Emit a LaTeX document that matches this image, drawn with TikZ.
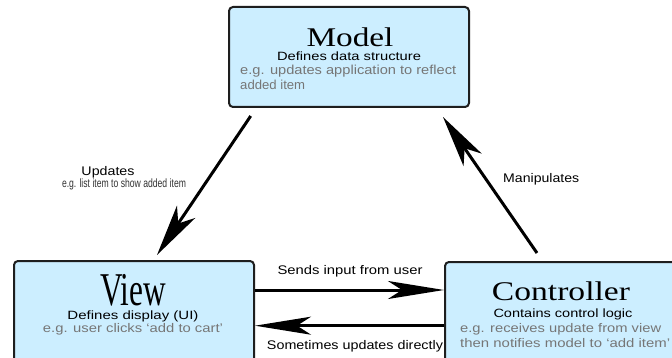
\documentclass[tikz,border=0pt]{standalone}
\usepackage{fontspec}
\setmainfont{Liberation Serif}
\newfontfamily\sansf{Liberation Sans}
\usepackage{graphicx}
\usetikzlibrary{arrows.meta}
\definecolor{boxfill}{HTML}{CCEEFF}
\definecolor{boxline}{HTML}{1E1E1E}
\definecolor{greytxt}{HTML}{767676}
\newcommand{\fw}[2]{\resizebox{#1}{\height}{#2}}
\begin{document}
\begin{tikzpicture}[x=1pt,y=-1pt,
  box/.style={draw=boxline,line width=2pt,fill=boxfill,rounded corners=4pt,inner sep=0pt},
  ttl/.style={inner sep=0pt,anchor=base,font=\fontsize{27}{27}\selectfont},
  blk/.style={inner sep=0pt,anchor=base,font=\sansf\fontsize{12}{12}\selectfont},
  gry/.style={inner sep=0pt,anchor=base west,text=greytxt,font=\sansf\fontsize{12.5}{12.5}\selectfont},
  lbl/.style={inner sep=0pt,anchor=base,font=\sansf\fontsize{12.5}{12.5}\selectfont},
  arr/.style={line width=3pt,-{Stealth[length=52pt,width=22pt,inset=14pt]}},
  harr/.style={line width=3pt,-{Stealth[length=56pt,width=18pt,inset=14pt]}}]
\useasboundingbox (0,0) rectangle (672,358);
\clip (0,0) rectangle (672,358);
\fill[white] (0,0) rectangle (672,358);
% boxes
\node[box,minimum width=240pt,minimum height=100pt] (model) at (349,57) {};
\node[box,minimum width=240pt,minimum height=119pt] (view) at (134,320.5) {};
\node[box,minimum width=255pt,minimum height=118pt] (ctrl) at (572.5,321) {};
% model texts
\node[ttl] (mt) at (350,46.7) {\fw{87pt}{Model}};
\node[blk] (m1) at (349,60.7) {\fw{144pt}{Defines data structure}};
\node[gry,font=\sansf\fontsize{13}{13}\selectfont] (m2) at (240,75) {\fw{216pt}{e.g. updates application to reflect}};
\node[gry,font=\sansf\fontsize{13}{13}\selectfont] (m3) at (240,89.5) {\fw{65pt}{added item}};
% view texts
\node[ttl,font=\fontsize{47}{47}\selectfont] (vt) at (133,305.5) {\fw{66pt}{View}};
\node[blk] (v1) at (133,319) {\fw{131pt}{Defines display (UI)}};
\node[gry,anchor=base] (v2) at (133,332.7) {\fw{180pt}{e.g. user clicks ‘add to cart’}};
% controller texts
\node[ttl] (ct) at (561,300) {\fw{138pt}{Controller}};
\node[blk] (c1) at (563,317.7) {\fw{139pt}{Contains control logic}};
\node[gry] (c2) at (460,332.7) {\fw{201pt}{e.g. receives update from view}};
\node[gry] (c3) at (460,347.3) {\fw{210pt}{then notifies model to ‘add item’}};
% arrows
\coordinate (ua) at (250.7,116);
\coordinate (ub) at (157,255);
\coordinate (ma) at (537,253);
\coordinate (mb) at (443,117);
\coordinate (sy) at (0,290);
\coordinate (ry) at (0,325.7);
\draw[arr] (ua) -- (ub);
\draw[arr] (ma) -- (mb);
\draw[harr] (view.east |- sy) -- (ctrl.west |- sy);
\draw[harr] (ctrl.west |- ry) -- (view.east |- ry);
% labels
\node[lbl] (l1) at (108,176) {\fw{53pt}{Updates}};
\node[lbl,text=black!80,font=\sansf\fontsize{12}{12}\selectfont] (l2) at (124,187.5) {\fw{124pt}{e.g. list item to show added item}};
\node[lbl,anchor=base west] (l3) at (503,182.7) {\fw{76pt}{Manipulates}};
\node[lbl] (l4) at (350,274.3) {\fw{145pt}{Sends input from user}};
\node[lbl] (l5) at (355,349.3) {\fw{176pt}{Sometimes updates directly}};
\end{tikzpicture}
\end{document}
